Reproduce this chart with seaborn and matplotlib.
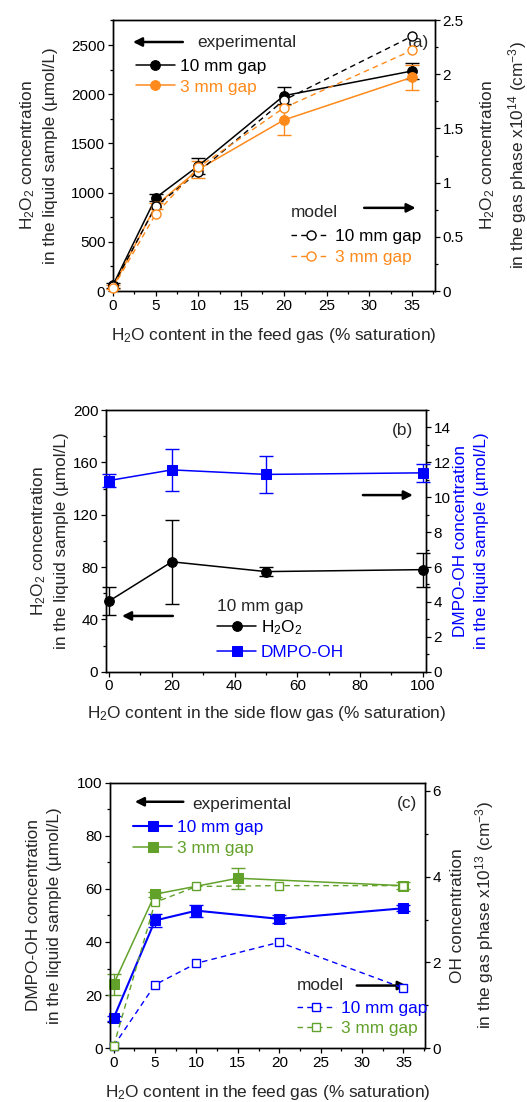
import numpy as np
import pandas as pd
import matplotlib
matplotlib.use("Agg")
import matplotlib.pyplot as plt
from matplotlib.ticker import AutoMinorLocator, FuncFormatter, MultipleLocator
import seaborn as sns

# --- data ---
# (a) H2O2 vs H2O content in feed gas
feed_x = [0, 5, 10, 20, 35]
h2o2_exp_10 = [60, 948, 1273, 1985, 2236]
h2o2_err_10 = [25, 35, 80, 85, 85]
h2o2_exp_3 = [40, 867, 1236, 1738, 2172]
h2o2_err_3 = [20, 30, 90, 150, 130]
h2o2_model_10 = [0.05, 0.78, 1.10, 1.76, 2.35]
h2o2_model_3 = [0.03, 0.71, 1.14, 1.69, 2.22]

# (b) side flow humidity
side_x = [0, 20, 50, 100]
h2o2_side = [54, 84, 76.5, 78]
h2o2_side_err = [11, 32, 3.5, 13]
dmpo_side = [10.96, 11.57, 11.31, 11.4]
dmpo_side_err = [0.37, 1.2, 1.05, 0.5]

# (c) DMPO-OH / OH vs feed gas humidity
dmpo_x_10 = [0, 5, 10, 20, 35]
dmpo_exp_10 = [11.3, 48.1, 51.8, 48.7, 52.7]
dmpo_err_10 = [1.0, 2.5, 2.3, 1.5, 1.2]
dmpo_x_3 = [0, 5, 15, 35]
dmpo_exp_3 = [24.1, 58.0, 64.0, 61.2]
dmpo_err_3 = [3.9, 1.0, 4.0, 1.2]
oh_model_10 = [0.05, 1.48, 1.98, 2.47, 1.40]
oh_model_3 = [0.05, 3.40, 3.77, 3.79, 3.79]

ORANGE = "#FF8A1C"
GREEN = "#62A12A"
BLUE = "#0000FF"

sns.set_style("ticks")
plt.rcParams["font.family"] = ["Liberation Sans", "DejaVu Sans"]
plt.rcParams["mathtext.fontset"] = "custom"
plt.rcParams["mathtext.rm"] = "Liberation Sans"
plt.rcParams["mathtext.it"] = "Liberation Sans:italic"
plt.rcParams["mathtext.default"] = "regular"
plt.rcParams["axes.edgecolor"] = "black"
plt.rcParams["axes.linewidth"] = 1.0
plt.rcParams["xtick.color"] = "black"
plt.rcParams["ytick.color"] = "black"

TICK_FS = 11
LAB_FS = 12.4
LEG_FS = 12.4
YL_SPACING = 1.5

fig = plt.figure(figsize=(5.27, 11.02), dpi=100)
ax_a = fig.add_axes([0.2144, 0.7359, 0.6110, 0.2459])
ax_b = fig.add_axes([0.2011, 0.3905, 0.6072, 0.2374])
ax_c = fig.add_axes([0.2093, 0.0488, 0.5972, 0.2410])


def style_axes(ax, ax2):
    for a in (ax, ax2):
        a.tick_params(which="major", length=3.5, width=0.9, labelsize=TICK_FS,
                      direction="out", pad=2)
        a.tick_params(which="minor", length=2, width=0.9, direction="out")
    ax.tick_params(axis="both", which="both", top=False, right=False)
    ax2.tick_params(axis="y", which="both", left=False, right=True)
    ax.xaxis.set_minor_locator(AutoMinorLocator(2))
    ax.yaxis.set_minor_locator(AutoMinorLocator(2))
    ax2.yaxis.set_minor_locator(AutoMinorLocator(2))
    for s in ax.spines.values():
        s.set_color("black")


def exp_line(ax, x, y, err, color, marker, label, ms=7, lw=1.1):
    df = pd.DataFrame({"x": x, "y": y})
    ax.errorbar(x, y, yerr=err, fmt="none", ecolor=color, elinewidth=1.0,
                capsize=5, capthick=1.0, clip_on=False, zorder=3)
    sns.lineplot(data=df, x="x", y="y", ax=ax, color=color, marker=marker,
                 markersize=ms, markeredgecolor=color, markerfacecolor=color,
                 linewidth=lw, label=label, clip_on=False, zorder=4,
                 sort=False, estimator=None)


def model_line(ax, x, y, color, marker, label, ms=6.5):
    df = pd.DataFrame({"x": x, "y": y})
    sns.lineplot(data=df, x="x", y="y", ax=ax, color=color, marker=marker,
                 markersize=ms, markeredgecolor=color, markerfacecolor="white",
                 markeredgewidth=1.0, linewidth=1.0, linestyle=(0, (4, 3)),
                 label=label, clip_on=False, zorder=4, sort=False, estimator=None)


def arrow(ax, x0, x1, y):
    ax.annotate("", xy=(x1, y), xytext=(x0, y), xycoords="axes fraction",
                arrowprops=dict(arrowstyle="-|>", color="black", lw=1.8,
                                mutation_scale=13, shrinkA=0, shrinkB=0))


def legend(ax, x, y, spacing=0.34):
    leg = ax.legend(loc="upper left", bbox_to_anchor=(x, y), frameon=False,
                    fontsize=LEG_FS, handlelength=2.27, handletextpad=0.29,
                    labelspacing=spacing, borderpad=0, borderaxespad=0,
                    labelcolor="linecolor")
    return leg


fmt_g = FuncFormatter(lambda v, p: f"{v:g}")

# ---------------- (a) ----------------
ax = ax_a
ax2 = ax.twinx()
exp_line(ax, feed_x, h2o2_exp_10, h2o2_err_10, "black", "o", "10 mm gap")
exp_line(ax, feed_x, h2o2_exp_3, h2o2_err_3, ORANGE, "o", "3 mm gap")
model_line(ax2, feed_x, h2o2_model_10, "black", "o", "10 mm gap")
model_line(ax2, feed_x, h2o2_model_3, ORANGE, "o", "3 mm gap")
ax.set_xlim(0, 37.7)
ax.set_ylim(0, 2754)
ax2.set_ylim(0, 2.5)
ax.xaxis.set_major_locator(MultipleLocator(5))
ax.yaxis.set_major_locator(MultipleLocator(500))
ax2.yaxis.set_major_locator(MultipleLocator(0.5))
ax2.yaxis.set_major_formatter(fmt_g)
style_axes(ax, ax2)
legend(ax, 0.071, 0.858)
legend(ax2, 0.553, 0.229)
ax.text(0.261, 0.919, "experimental", transform=ax.transAxes, fontsize=LEG_FS,
        va="center", ha="left")
arrow(ax, 0.217, 0.062, 0.919)
ax2.text(0.553, 0.29, "model", transform=ax2.transAxes, fontsize=LEG_FS,
         va="center", ha="left")
arrow(ax2, 0.78, 0.94, 0.307)
ax2.text(0.95, 0.919, "(a)", transform=ax2.transAxes, fontsize=LEG_FS,
         va="center", ha="center")
ax.set_xlabel("H$_2$O content in the feed gas (% saturation)", fontsize=LAB_FS)
ax.set_ylabel("H$_2$O$_2$ concentration\nin the liquid sample (µmol/L)",
              fontsize=LAB_FS, linespacing=YL_SPACING)
ax2.set_ylabel("H$_2$O$_2$ concentration\nin the gas phase x10$^{14}$ (cm$^{-3}$)",
               fontsize=LAB_FS, linespacing=YL_SPACING)
ax.xaxis.set_label_coords(0.498, -0.129)
ax.yaxis.set_label_coords(-0.170, 0.5)
ax2.yaxis.set_label_coords(1.135, 0.5)

# ---------------- (b) ----------------
ax = ax_b
ax2 = ax.twinx()
exp_line(ax, side_x, h2o2_side, h2o2_side_err, "black", "o", "H$_2$O$_2$")
exp_line(ax2, side_x, dmpo_side, dmpo_side_err, BLUE, "s", "DMPO-OH", ms=6.5)
ax.set_xlim(-1, 101)
ax.set_ylim(0, 200)
ax2.set_ylim(0, 15)
ax.xaxis.set_major_locator(MultipleLocator(20))
ax.yaxis.set_major_locator(MultipleLocator(40))
ax2.yaxis.set_major_locator(MultipleLocator(2))
style_axes(ax, ax2)
h1, l1 = ax.get_legend_handles_labels()
h2, l2 = ax2.get_legend_handles_labels()
ax.get_legend().remove()
leg = ax2.legend(h1 + h2, l1 + l2, loc="upper left", bbox_to_anchor=(0.347, 0.278),
                 frameon=False, fontsize=LEG_FS, handlelength=2.27,
                 handletextpad=0.29, labelspacing=0.45, borderpad=0,
                 borderaxespad=0, labelcolor="linecolor", title="10 mm gap",
                 title_fontsize=LEG_FS, alignment="left")
leg._legend_box.sep = 3
arrow(ax2, 0.803, 0.959, 0.675)
arrow(ax2, 0.209, 0.05, 0.213)
ax2.text(0.927, 0.921, "(b)", transform=ax2.transAxes, fontsize=LEG_FS,
         va="center", ha="center")
ax.set_xlabel("H$_2$O content in the side flow gas (% saturation)", fontsize=LAB_FS)
ax.set_ylabel("H$_2$O$_2$ concentration\nin the liquid sample (µmol/L)",
              fontsize=LAB_FS, linespacing=YL_SPACING)
ax2.set_ylabel("DMPO-OH concentration\nin the liquid sample (µmol/L)",
               fontsize=LAB_FS, color=BLUE, linespacing=YL_SPACING)
ax.xaxis.set_label_coords(0.502, -0.123)
ax.yaxis.set_label_coords(-0.116, 0.5)
ax2.yaxis.set_label_coords(1.084, 0.5)

# ---------------- (c) ----------------
ax = ax_c
ax2 = ax.twinx()
exp_line(ax, dmpo_x_10, dmpo_exp_10, dmpo_err_10, BLUE, "s", "10 mm gap",
         ms=6.5, lw=1.5)
exp_line(ax, dmpo_x_3, dmpo_exp_3, dmpo_err_3, GREEN, "s", "3 mm gap", ms=6.5)
model_line(ax2, feed_x, oh_model_10, BLUE, "s", "10 mm gap", ms=6)
model_line(ax2, feed_x, oh_model_3, GREEN, "s", "3 mm gap", ms=6)
ax.set_xlim(-0.4, 37.6)
ax.set_ylim(0, 100)
ax2.set_ylim(0, 6.19)
ax.xaxis.set_major_locator(MultipleLocator(5))
ax.yaxis.set_major_locator(MultipleLocator(20))
ax2.yaxis.set_major_locator(MultipleLocator(2))
style_axes(ax, ax2)
legend(ax, 0.073, 0.858, spacing=0.32)
legend(ax2, 0.592, 0.179, spacing=0.32)
ax.text(0.261, 0.916, "experimental", transform=ax.transAxes, fontsize=LEG_FS,
        va="center", ha="left")
arrow(ax, 0.232, 0.078, 0.928)
ax2.text(0.592, 0.236, "model", transform=ax2.transAxes, fontsize=LEG_FS,
         va="center", ha="left")
arrow(ax2, 0.783, 0.942, 0.236)
ax2.text(0.942, 0.922, "(c)", transform=ax2.transAxes, fontsize=LEG_FS,
         va="center", ha="center")
ax.set_xlabel("H$_2$O content in the feed gas (% saturation)", fontsize=LAB_FS)
ax.set_ylabel("DMPO-OH concentration\nin the liquid sample (µmol/L)",
              fontsize=LAB_FS, linespacing=YL_SPACING)
ax2.set_ylabel("OH concentration\nin the gas phase x10$^{13}$ (cm$^{-3}$)",
               fontsize=LAB_FS, linespacing=YL_SPACING)
ax.xaxis.set_label_coords(0.501, -0.132)
ax.yaxis.set_label_coords(-0.153, 0.5)
ax2.yaxis.set_label_coords(1.079, 0.5)

fig.savefig("out.png", dpi=100)
